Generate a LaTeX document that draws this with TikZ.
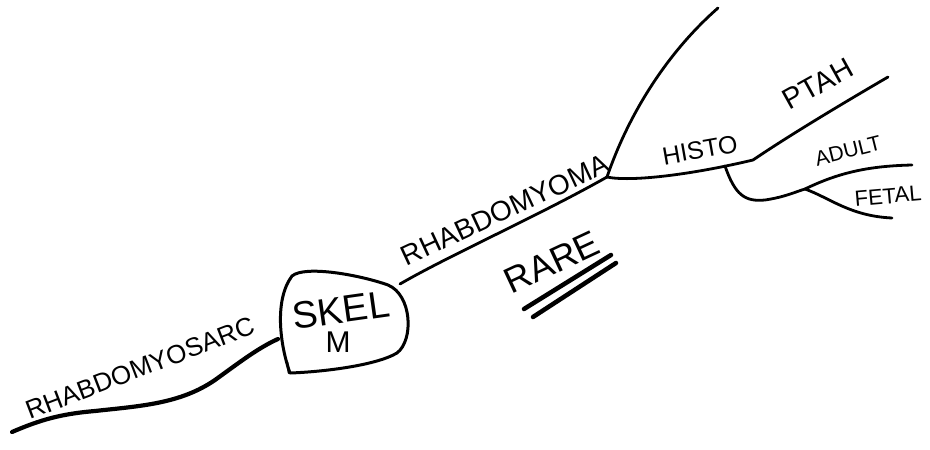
\documentclass[tikz,border=0pt]{standalone}
\usepackage{fontspec}
\setmainfont{Liberation Sans}
\begin{document}
\begin{tikzpicture}[x=1pt,y=-1pt,
  ln/.style={line width=2.8pt, line cap=round, line join=round},
  lbl/.style={inner sep=0pt, font=\fontsize{#1}{#1}\selectfont},
  lbl/.default=24]
\useasboundingbox[fill=white] (0,0) rectangle (930,450);
% text nodes
\node[lbl=26, rotate=21] (sarc) at (140,368) {RHABDOMYOSARC};
\node[inner sep=0pt, minimum width=128pt, minimum height=100pt] (skel) at (343,322) {};
\node[lbl=38, rotate=8] (skeltxt) at (341,310) {SKEL};
\node[lbl=30] (m) at (338,342) {M};
\node[lbl=28, rotate=25] (myoma) at (505,210) {RHABDOMYOMA};
\node[lbl=36, rotate=25] (rare) at (552,262) {RARE};
\node[lbl=25, rotate=10] (histo) at (700,150) {HISTO};
\node[lbl=29, rotate=29] (ptah) at (818,84) {PTAH};
\node[lbl=21, rotate=14] (adult) at (848,151) {ADULT};
\node[lbl=22, rotate=5] (fetal) at (888,196) {FETAL};
% attachment points
\coordinate (l0) at (12,432);
\coordinate (sL) at (278,339);
\coordinate (sR) at (400,284);
\coordinate (j1) at (607,177);
\coordinate (top) at (718,8);
\coordinate (h2) at (753,160);
\coordinate (pend) at (888,77);
\coordinate (hb) at (725,166);
\coordinate (j2) at (805,189);
\coordinate (aend) at (912,165);
\coordinate (fend) at (892,218);
\coordinate (u1a) at (524,309);
\coordinate (u1b) at (611,255);
\coordinate (u2a) at (533,317);
\coordinate (u2b) at (616,263);
% box outline
\draw[ln, line width=3pt] (290,373) .. controls (280,345) and (274,300) .. (292,276)
  .. controls (305,265) and (360,275) .. (388,285)
  .. controls (412,295) and (414,340) .. (397,353)
  .. controls (375,366) and (320,372) .. (290,373) -- cycle;
\draw[ln, line width=2.4pt] (289,373) -- (287,362);
% connectors
\draw[ln, line width=4.2pt] (l0) .. controls (40,420) and (60,414) .. (95,411)
  .. controls (140,406) and (180,404) .. (215,380)
  .. controls (240,362) and (258,348) .. (sL);
\draw[ln] (sR) .. controls (450,255) and (540,215) .. (j1);
\draw[ln] (j1) .. controls (630,110) and (670,50) .. (top);
\draw[ln] (j1) .. controls (630,182) and (690,175) .. (h2)
  .. controls (790,135) and (840,105) .. (pend);
\draw[ln] (hb) .. controls (735,195) and (745,202) .. (765,200)
  .. controls (785,197) and (795,192) .. (j2);
\draw[ln] (j2) .. controls (840,172) and (870,166) .. (aend);
\draw[ln] (j2) .. controls (830,198) and (850,216) .. (fend);
% underline of RARE
\draw[line width=4.5pt, line cap=round] (u1a) -- (u1b);
\draw[line width=4.5pt, line cap=round] (u2a) -- (u2b);
\end{tikzpicture}
\end{document}
